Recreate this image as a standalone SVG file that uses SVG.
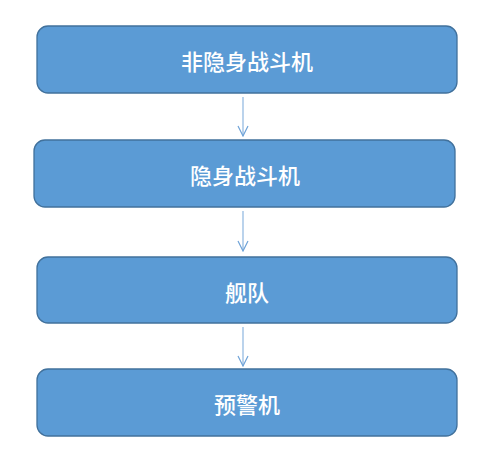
<svg xmlns="http://www.w3.org/2000/svg" width="503" height="463" viewBox="0 0 503 463">
<style>
.box{fill:#5B9BD5;stroke:#41719C;stroke-width:1.3}
.t{fill:#fff;font-family:"Noto Sans CJK SC",sans-serif;font-size:22px;font-weight:500;text-anchor:middle;dominant-baseline:central}
.c{stroke:#8DB6E0;stroke-width:1.2;fill:none}
</style>
<defs>
<marker id="a" viewBox="0 0 12 12" refX="11" refY="6" markerWidth="12" markerHeight="12" markerUnits="userSpaceOnUse" orient="auto">
<path d="M1,1 L11,6 L1,11" fill="none" stroke="#6FA3D8" stroke-width="1.2"/>
</marker>
</defs>
<rect width="503" height="463" fill="#fff"/>
<g id="connectors">
<line class="c" x1="243" y1="97" x2="243" y2="136" marker-end="url(#a)"/>
<line class="c" x1="243" y1="211" x2="243" y2="251" marker-end="url(#a)"/>
<line class="c" x1="243" y1="327" x2="243" y2="366" marker-end="url(#a)"/>
</g>
<g id="n1"><rect class="box" x="37" y="26" width="420" height="67" rx="11"/><text class="t" x="247" y="60">非隐身战斗机</text></g>
<g id="n2"><rect class="box" x="34" y="140" width="421" height="67" rx="11"/><text class="t" x="245" y="174">隐身战斗机</text></g>
<g id="n3"><rect class="box" x="37" y="257" width="420" height="66" rx="11"/><text class="t" x="247" y="291">舰队</text></g>
<g id="n4"><rect class="box" x="37" y="369" width="420" height="67" rx="11"/><text class="t" x="247" y="403">预警机</text></g>
</svg>
